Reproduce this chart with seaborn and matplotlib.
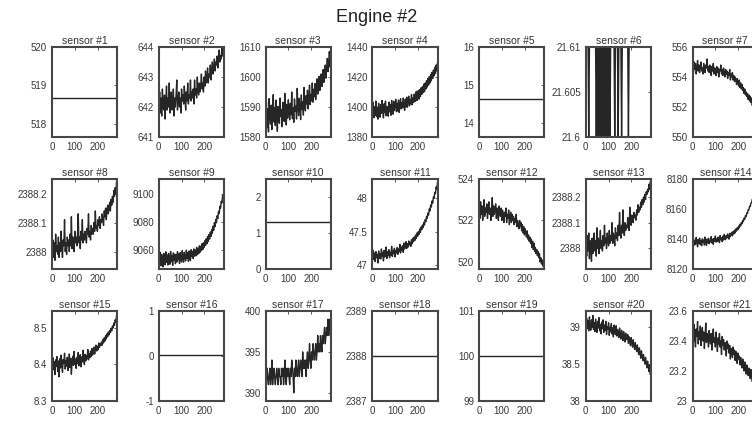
import numpy as np
import matplotlib
matplotlib.use("Agg")
import matplotlib.pyplot as plt
import seaborn as sns
from matplotlib.ticker import FuncFormatter

# ---------------- data ----------------
cycles = np.arange(1, 288, 3)          # cycle index, every 3rd cycle (96 samples)
x_ticks = [0, 100, 200]
chart_title = "Engine #2"

# constant-valued sensors
sensor_01_value = 518.67
sensor_05_value = 14.62
sensor_10_value = 1.3
sensor_16_value = 0.03
sensor_18_value = 2388.0
sensor_19_value = 100.0

sensor_02 = [642.1, 642.5, 641.8, 642.3, 641.7, 642.6, 642.0, 641.9, 642.4, 641.6, 642.2, 642.7,
             641.9, 642.3, 642.0, 642.8, 641.8, 642.2, 642.5, 641.9, 642.1, 642.6, 641.7, 642.3,
             642.0, 642.4, 642.9, 641.9, 642.2, 642.5, 642.0, 642.3, 641.8, 642.6, 642.2, 642.4,
             642.1, 642.7, 642.3, 641.9, 642.5, 642.2, 642.8, 642.1, 642.4, 642.3, 642.9, 642.2,
             642.5, 642.3, 642.6, 642.1, 642.9, 642.4, 642.6, 642.3, 643.0, 642.5, 642.4, 642.8,
             642.5, 642.7, 643.1, 642.6, 642.8, 642.5, 643.0, 642.7, 643.2, 642.8, 642.9, 643.3,
             642.8, 643.1, 643.0, 643.4, 642.9, 643.2, 643.5, 643.1, 643.3, 643.6, 643.2, 643.5,
             643.4, 643.7, 643.3, 643.6, 643.9, 643.5, 643.7, 643.6, 644.0, 643.7, 643.9, 643.8]

sensor_03 = [1586.2, 1591.5, 1583.1, 1589.4, 1581.7, 1592.8, 1587.0, 1584.3, 1590.6, 1582.5, 1588.9, 1594.1,
             1585.0, 1589.7, 1583.8, 1592.3, 1586.4, 1581.9, 1590.2, 1587.5, 1584.6, 1593.0, 1586.8, 1589.1,
             1583.4, 1591.6, 1587.9, 1585.2, 1594.5, 1588.1, 1584.0, 1590.9, 1586.3, 1592.4, 1589.0, 1585.7,
             1591.2, 1587.4, 1595.0, 1586.1, 1589.8, 1584.9, 1592.7, 1588.6, 1590.3, 1586.0, 1596.2, 1589.5,
             1587.1, 1592.9, 1590.0, 1585.8, 1594.0, 1589.2, 1591.7, 1587.3, 1596.5, 1590.4, 1588.7, 1593.8,
             1591.0, 1595.6, 1589.4, 1593.1, 1597.3, 1590.8, 1594.2, 1592.0, 1598.0, 1591.6, 1595.9, 1593.4,
             1597.8, 1592.5, 1596.0, 1599.4, 1594.3, 1597.1, 1600.2, 1595.5, 1598.6, 1601.0, 1596.8, 1599.9,
             1602.5, 1598.2, 1601.4, 1604.0, 1599.6, 1603.1, 1606.2, 1601.8, 1604.7, 1608.5, 1603.3, 1607.0]

sensor_04 = [1396.5, 1403.2, 1392.8, 1400.1, 1394.3, 1404.0, 1393.6, 1399.8, 1391.9, 1402.5, 1397.0, 1393.2,
             1401.6, 1395.8, 1404.4, 1397.0, 1392.7, 1402.1, 1396.3, 1404.0, 1394.1, 1400.4, 1398.2, 1393.9,
             1403.3, 1396.8, 1401.6, 1394.5, 1404.4, 1398.0, 1395.2, 1403.8, 1397.6, 1401.0, 1405.1, 1396.9,
             1402.5, 1397.3, 1404.6, 1396.4, 1401.8, 1405.5, 1398.7, 1403.1, 1399.4, 1406.0, 1400.2, 1397.8,
             1405.3, 1400.0, 1406.6, 1399.9, 1403.8, 1407.2, 1400.7, 1405.1, 1402.0, 1408.3, 1401.5, 1406.0,
             1403.2, 1408.6, 1403.6, 1407.0, 1410.4, 1404.3, 1408.6, 1411.0, 1405.2, 1411.6, 1407.0, 1412.8,
             1408.4, 1413.5, 1409.6, 1415.3, 1410.2, 1416.0, 1412.0, 1417.6, 1413.3, 1419.0, 1414.6, 1420.3,
             1416.0, 1421.7, 1417.5, 1423.1, 1419.0, 1424.6, 1420.8, 1426.4, 1422.2, 1428.0, 1424.0, 1429.8]

sensor_06 = [21.61, 21.61, 21.61, 21.61, 21.60, 21.61, 21.61, 21.61, 21.61, 21.61, 21.61, 21.61,
             21.61, 21.61, 21.61, 21.60, 21.61, 21.60, 21.61, 21.60, 21.61, 21.60, 21.61, 21.60,
             21.61, 21.60, 21.61, 21.60, 21.61, 21.60, 21.61, 21.60, 21.61, 21.60, 21.61, 21.60,
             21.61, 21.61, 21.61, 21.61, 21.61, 21.61, 21.60, 21.61, 21.61, 21.61, 21.61, 21.60,
             21.61, 21.61, 21.61, 21.61, 21.60, 21.61, 21.61, 21.61, 21.61, 21.61, 21.61, 21.61,
             21.61, 21.61, 21.60, 21.61, 21.61, 21.61, 21.61, 21.61, 21.61, 21.61, 21.61, 21.61,
             21.61, 21.61, 21.61, 21.61, 21.61, 21.61, 21.61, 21.61, 21.61, 21.61, 21.61, 21.61,
             21.61, 21.61, 21.61, 21.61, 21.61, 21.61, 21.61, 21.61, 21.61, 21.61, 21.61, 21.61]

sensor_07 = [554.7, 554.3, 555.0, 554.5, 554.9, 554.2, 554.6, 555.1, 554.4, 554.8, 554.3, 554.7,
             555.0, 554.4, 554.6, 554.2, 554.9, 554.5, 554.3, 554.8, 554.6, 555.2, 554.4, 554.7,
             554.3, 554.8, 554.5, 554.1, 554.7, 554.4, 554.9, 554.2, 554.6, 554.5, 554.1, 554.7,
             554.3, 554.6, 554.0, 554.5, 554.4, 554.8, 554.2, 554.5, 554.1, 554.6, 554.3, 554.0,
             554.5, 554.2, 554.4, 553.9, 554.3, 554.1, 554.5, 553.8, 554.2, 554.0, 554.3, 553.8,
             554.1, 553.7, 554.0, 553.8, 553.5, 553.9, 553.6, 553.4, 553.8, 553.3, 553.6, 553.2,
             553.5, 553.1, 553.3, 552.9, 553.2, 552.8, 553.0, 552.7, 552.9, 552.5, 552.8, 552.4,
             552.7, 552.3, 552.6, 552.1, 552.4, 552.0, 552.2, 551.8, 552.1, 551.6, 551.9, 551.5]

sensor_08 = [2388.01, 2388.04, 2387.98, 2388.03, 2387.97, 2388.06, 2388.00, 2388.02, 2387.99, 2388.05, 2387.98, 2388.03,
             2388.00, 2388.07, 2388.01, 2387.98, 2388.04, 2388.02, 2388.11, 2388.00, 2388.03, 2387.99, 2388.05, 2388.02,
             2388.04, 2388.00, 2388.06, 2388.02, 2388.12, 2388.01, 2388.05, 2388.03, 2388.00, 2388.07, 2388.03, 2388.05,
             2388.02, 2388.06, 2388.13, 2388.03, 2388.05, 2388.01, 2388.07, 2388.04, 2388.11, 2388.03, 2388.06, 2388.04,
             2388.07, 2388.05, 2388.03, 2388.08, 2388.06, 2388.13, 2388.05, 2388.07, 2388.04, 2388.09, 2388.06, 2388.08,
             2388.06, 2388.10, 2388.07, 2388.14, 2388.08, 2388.09, 2388.07, 2388.11, 2388.09, 2388.12, 2388.08, 2388.11,
             2388.10, 2388.13, 2388.11, 2388.09, 2388.14, 2388.12, 2388.15, 2388.11, 2388.14, 2388.16, 2388.13, 2388.15,
             2388.17, 2388.14, 2388.18, 2388.16, 2388.19, 2388.17, 2388.21, 2388.19, 2388.22, 2388.20, 2388.24, 2388.23]

sensor_09 = [9055.2, 9049.8, 9058.0, 9048.3, 9056.5, 9051.2, 9047.6, 9057.3, 9052.1, 9049.0, 9058.4, 9050.9,
             9056.1, 9048.9, 9057.3, 9052.5, 9049.4, 9058.7, 9051.3, 9055.5, 9048.6, 9057.6, 9052.3, 9056.7,
             9049.9, 9056.3, 9051.0, 9058.5, 9052.7, 9056.9, 9050.0, 9057.8, 9053.1, 9051.0, 9059.3, 9053.5,
             9050.9, 9058.1, 9054.0, 9051.8, 9059.6, 9053.7, 9057.7, 9051.6, 9059.0, 9054.3, 9052.0, 9059.9,
             9055.0, 9058.8, 9053.6, 9060.5, 9055.3, 9059.7, 9055.5, 9061.6, 9056.4, 9060.9, 9057.0, 9062.7,
             9058.1, 9062.5, 9059.3, 9064.3, 9060.0, 9064.9, 9061.7, 9066.4, 9063.0, 9067.8, 9064.2, 9069.3,
             9066.0, 9070.9, 9067.6, 9072.7, 9069.5, 9074.6, 9071.8, 9076.9, 9074.0, 9079.4, 9076.6, 9081.8,
             9079.4, 9084.5, 9082.5, 9087.7, 9086.0, 9091.3, 9089.9, 9094.9, 9093.8, 9099.1, 9098.1, 9103.8]

sensor_11 = [47.14, 47.22, 47.08, 47.18, 47.05, 47.20, 47.11, 47.16, 47.03, 47.21, 47.10, 47.17,
             47.09, 47.24, 47.13, 47.19, 47.06, 47.22, 47.12, 47.18, 47.27, 47.10, 47.20, 47.14,
             47.23, 47.11, 47.19, 47.15, 47.28, 47.13, 47.21, 47.17, 47.25, 47.12, 47.22, 47.18,
             47.26, 47.16, 47.24, 47.20, 47.31, 47.18, 47.27, 47.22, 47.29, 47.19, 47.33, 47.24,
             47.28, 47.35, 47.25, 47.32, 47.27, 47.36, 47.30, 47.34, 47.28, 47.38, 47.32, 47.40,
             47.35, 47.42, 47.37, 47.45, 47.40, 47.48, 47.43, 47.50, 47.46, 47.54, 47.49, 47.57,
             47.53, 47.60, 47.56, 47.64, 47.60, 47.68, 47.65, 47.73, 47.70, 47.78, 47.75, 47.84,
             47.81, 47.90, 47.87, 47.96, 47.93, 48.02, 48.00, 48.09, 48.07, 48.17, 48.14, 48.24]

sensor_12 = [522.6, 522.1, 522.9, 522.3, 522.7, 522.0, 522.5, 523.0, 522.2, 522.6, 522.4, 522.8,
             522.1, 522.5, 522.9, 522.3, 522.6, 522.0, 522.4, 523.1, 522.2, 522.7, 522.3, 522.5,
             522.8, 522.1, 522.6, 522.3, 522.0, 522.7, 522.4, 522.2, 522.6, 522.0, 522.5, 522.3,
             521.9, 522.4, 522.2, 522.6, 521.9, 522.3, 522.1, 522.5, 521.8, 522.2, 522.4, 521.9,
             522.3, 522.0, 522.2, 521.8, 522.1, 521.9, 522.3, 521.7, 522.0, 521.8, 521.6, 522.0,
             521.7, 521.9, 521.5, 521.8, 521.4, 521.7, 521.3, 521.6, 521.4, 521.2, 521.5, 521.1,
             521.3, 521.0, 521.2, 520.9, 521.1, 520.7, 521.0, 520.6, 520.9, 520.5, 520.7, 520.4,
             520.6, 520.3, 520.5, 520.2, 520.4, 520.0, 520.2, 519.9, 520.1, 519.8, 520.0, 519.7]

sensor_13 = [2388.02, 2387.97, 2388.05, 2387.99, 2388.06, 2387.96, 2388.03, 2388.00, 2387.95, 2388.04, 2387.98, 2388.01,
             2388.06, 2387.99, 2388.03, 2387.97, 2388.08, 2388.00, 2388.04, 2387.98, 2388.02, 2388.07, 2388.00, 2388.03,
             2387.99, 2388.05, 2388.01, 2388.09, 2388.02, 2388.04, 2388.00, 2388.06, 2388.03, 2388.01, 2388.07, 2388.02,
             2388.05, 2388.03, 2388.10, 2388.02, 2388.06, 2388.04, 2388.01, 2388.08, 2388.04, 2388.06, 2388.03, 2388.09,
             2388.05, 2388.14, 2388.06, 2388.04, 2388.09, 2388.06, 2388.15, 2388.07, 2388.05, 2388.10, 2388.07, 2388.09,
             2388.08, 2388.12, 2388.09, 2388.07, 2388.16, 2388.10, 2388.09, 2388.13, 2388.11, 2388.10, 2388.14, 2388.12,
             2388.13, 2388.11, 2388.15, 2388.13, 2388.17, 2388.14, 2388.16, 2388.15, 2388.18, 2388.16, 2388.19, 2388.17,
             2388.20, 2388.18, 2388.21, 2388.19, 2388.22, 2388.21, 2388.23, 2388.22, 2388.25, 2388.23, 2388.26, 2388.25]

sensor_14 = [8137.5, 8140.2, 8135.9, 8139.1, 8136.4, 8141.0, 8138.3, 8134.8, 8139.7, 8137.0, 8140.6, 8136.2,
             8138.9, 8135.5, 8140.1, 8137.7, 8139.4, 8136.0, 8141.3, 8138.1, 8135.7, 8139.9, 8137.4, 8140.5,
             8136.8, 8139.2, 8138.0, 8141.6, 8137.3, 8139.8, 8136.5, 8140.4, 8138.6, 8142.0, 8137.9, 8140.0,
             8138.4, 8141.2, 8139.0, 8137.6, 8142.3, 8139.5, 8140.8, 8138.2, 8141.9, 8139.3, 8143.0, 8140.1,
             8139.6, 8142.4, 8140.7, 8143.3, 8141.0, 8139.9, 8143.8, 8141.6, 8142.9, 8144.5, 8142.2, 8145.0,
             8143.4, 8145.9, 8144.1, 8146.8, 8145.3, 8147.5, 8146.2, 8148.6, 8147.4, 8149.8, 8148.7, 8151.0,
             8150.1, 8152.4, 8151.6, 8153.9, 8153.2, 8155.6, 8155.0, 8157.4, 8157.1, 8159.5, 8159.3, 8161.8,
             8161.7, 8164.0, 8164.2, 8166.5, 8166.9, 8169.1, 8169.6, 8171.8, 8172.4, 8174.6, 8175.3, 8177.5]

sensor_15 = [8.401, 8.418, 8.385, 8.407, 8.372, 8.412, 8.394, 8.421, 8.380, 8.409, 8.366, 8.415,
             8.390, 8.425, 8.398, 8.378, 8.413, 8.402, 8.430, 8.387, 8.410, 8.395, 8.419, 8.383,
             8.404, 8.428, 8.391, 8.416, 8.373, 8.408, 8.422, 8.397, 8.435, 8.400, 8.414, 8.389,
             8.418, 8.402, 8.432, 8.396, 8.411, 8.426, 8.393, 8.420, 8.406, 8.438, 8.412, 8.399,
             8.427, 8.409, 8.423, 8.415, 8.440, 8.412, 8.429, 8.418, 8.436, 8.421, 8.443, 8.425,
             8.432, 8.447, 8.428, 8.441, 8.452, 8.436, 8.449, 8.440, 8.458, 8.446, 8.455, 8.451,
             8.461, 8.452, 8.467, 8.458, 8.472, 8.463, 8.478, 8.469, 8.483, 8.475, 8.488, 8.480,
             8.492, 8.486, 8.498, 8.491, 8.504, 8.499, 8.512, 8.506, 8.521, 8.515, 8.533, 8.527]

sensor_17 = [392, 391, 393, 392, 391, 392, 393, 391, 392, 394, 391, 392,
             393, 392, 391, 392, 393, 392, 391, 393, 392, 392, 391, 393,
             392, 393, 391, 392, 394, 392, 391, 393, 392, 393, 392, 391,
             393, 392, 394, 393, 392, 390, 393, 392, 394, 393, 392, 393,
             394, 392, 393, 394, 393, 392, 395, 393, 394, 393, 394, 392,
             394, 395, 393, 394, 396, 394, 393, 395, 394, 396, 395, 394,
             395, 396, 394, 395, 397, 395, 396, 395, 397, 396, 395, 397,
             396, 397, 398, 396, 397, 398, 397, 399, 397, 398, 399, 398]

sensor_20 = [39.05, 39.12, 38.98, 39.09, 38.95, 39.14, 39.02, 38.96, 39.10, 39.00, 39.16, 38.97,
             39.06, 38.94, 39.11, 39.01, 38.93, 39.08, 38.99, 39.13, 38.95, 39.04, 38.91, 39.07,
             38.98, 39.10, 38.93, 39.03, 38.96, 39.08, 38.90, 39.01, 38.97, 39.06, 38.89, 39.00,
             38.94, 39.05, 38.91, 38.99, 38.87, 39.03, 38.95, 38.90, 39.02, 38.88, 38.97, 38.93,
             38.86, 38.99, 38.91, 38.84, 38.96, 38.89, 38.82, 38.94, 38.87, 38.80, 38.92, 38.85,
             38.83, 38.90, 38.78, 38.87, 38.81, 38.75, 38.86, 38.79, 38.73, 38.83, 38.76, 38.70,
             38.79, 38.72, 38.67, 38.76, 38.69, 38.63, 38.72, 38.65, 38.58, 38.68, 38.61, 38.55,
             38.63, 38.56, 38.50, 38.59, 38.52, 38.45, 38.54, 38.47, 38.40, 38.49, 38.36, 38.43]

sensor_21 = [23.45, 23.39, 23.51, 23.42, 23.36, 23.48, 23.43, 23.53, 23.38, 23.46, 23.41, 23.50,
             23.37, 23.44, 23.49, 23.40, 23.46, 23.35, 23.43, 23.52, 23.39, 23.45, 23.42, 23.36,
             23.47, 23.41, 23.38, 23.45, 23.34, 23.43, 23.48, 23.39, 23.42, 23.36, 23.46, 23.40,
             23.33, 23.42, 23.38, 23.45, 23.36, 23.40, 23.31, 23.43, 23.37, 23.41, 23.34, 23.39,
             23.36, 23.30, 23.40, 23.35, 23.38, 23.32, 23.37, 23.28, 23.35, 23.33, 23.29, 23.36,
             23.31, 23.34, 23.27, 23.33, 23.29, 23.25, 23.32, 23.28, 23.30, 23.24, 23.29, 23.26,
             23.22, 23.28, 23.25, 23.20, 23.26, 23.23, 23.18, 23.24, 23.21, 23.17, 23.22, 23.19,
             23.15, 23.21, 23.17, 23.13, 23.19, 23.15, 23.11, 23.17, 23.12, 23.09, 23.14, 23.10]

# axis ranges and y tick values per sensor
y_limits = {1: (517.66, 520.0), 2: (641, 644), 3: (1580, 1610), 4: (1380, 1440),
            5: (13.62, 16.0), 6: (21.6, 21.61), 7: (550, 556), 8: (2387.94, 2388.25),
            9: (9046, 9111), 10: (0, 2.5), 11: (46.94, 48.29), 12: (519.66, 524),
            13: (2387.92, 2388.27), 14: (8120, 8180), 15: (8.3, 8.545), 16: (-1, 1),
            17: (389, 400), 18: (2387, 2389), 19: (99, 101), 20: (38, 39.22), 21: (23, 23.6)}
y_ticks = {1: [518, 519, 520], 2: [641, 642, 643, 644], 3: [1580, 1590, 1600, 1610],
           4: [1380, 1400, 1420, 1440], 5: [14, 15, 16], 6: [21.6, 21.605, 21.61],
           7: [550, 552, 554, 556], 8: [2388, 2388.1, 2388.2], 9: [9060, 9080, 9100],
           10: [0, 1, 2], 11: [47, 47.5, 48], 12: [520, 522, 524],
           13: [2388, 2388.1, 2388.2], 14: [8120, 8140, 8160, 8180], 15: [8.3, 8.4, 8.5],
           16: [-1, 0, 1], 17: [390, 395, 400], 18: [2387, 2388, 2389], 19: [99, 100, 101],
           20: [38, 38.5, 39], 21: [23, 23.2, 23.4, 23.6]}

constant_sensors = {1: sensor_01_value, 5: sensor_05_value, 10: sensor_10_value,
                    16: sensor_16_value, 18: sensor_18_value, 19: sensor_19_value}
varying_sensors = {2: sensor_02, 3: sensor_03, 4: sensor_04, 6: sensor_06, 7: sensor_07,
                   8: sensor_08, 9: sensor_09, 11: sensor_11, 12: sensor_12, 13: sensor_13,
                   14: sensor_14, 15: sensor_15, 17: sensor_17, 20: sensor_20, 21: sensor_21}

# ---------------- drawing ----------------
sns.set_theme(style="white")
plt.rcParams["font.family"] = ["Liberation Sans", "DejaVu Sans"]

W, H = 752, 421
fig, axes = plt.subplots(3, 7, figsize=(W / 100, H / 100), dpi=100)
fig.subplots_adjust(left=52 / W, right=758 / W, top=1 - 47 / H, bottom=1 - 401 / H,
                    wspace=41 / 65, hspace=42 / 90)

line_color = "#262626"
fmt = FuncFormatter(lambda v, p: f"{v:g}")

for k in range(1, 22):
    ax = axes.flat[k - 1]
    if k in constant_sensors:
        y = np.full(len(cycles), constant_sensors[k])
    else:
        y = np.asarray(varying_sensors[k], dtype=float)
    sns.lineplot(x=cycles, y=y, ax=ax, color=line_color, linewidth=1.0,
                 errorbar=None, estimator=None)
    ax.set_xlim(0, 287)
    ax.set_ylim(*y_limits[k])
    ax.set_xticks(x_ticks)
    ax.set_yticks(y_ticks[k])
    ax.yaxis.set_major_formatter(fmt)
    ax.xaxis.set_major_formatter(fmt)
    ax.set_xlabel("")
    ax.set_ylabel("")
    ax.set_title(f"sensor #{k}", fontsize=7.5, pad=2, color="#333333")
    for s in ax.spines.values():
        s.set_visible(True)
        s.set_color("#474747")
        s.set_linewidth(1.5)
    ax.tick_params(direction="in", length=2.5, width=0.6, top=True, right=True,
                   labelsize=7, pad=3.5, colors="#3a3a3a")

fig.text(0.501, 1 - 18 / H, chart_title, ha="center", va="center",
         fontsize=13, color="#222222")

fig.savefig("out.png", dpi=100)
